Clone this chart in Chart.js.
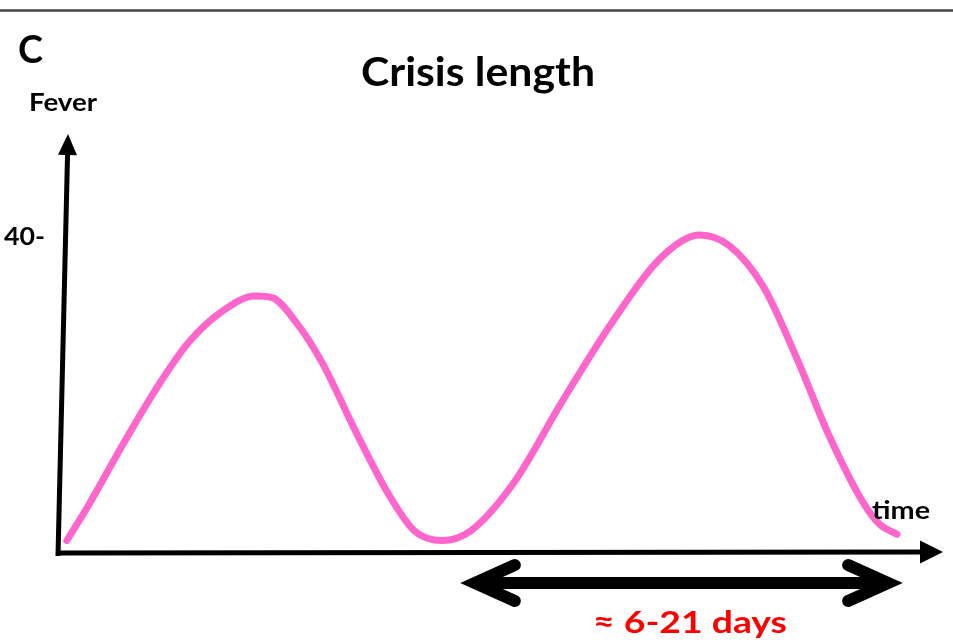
<!DOCTYPE html>
<html>
<head>
<meta charset="utf-8">
<title>Crisis length</title>
<script src="https://cdn.jsdelivr.net/npm/chart.js"></script>
<style>
  html, body { margin: 0; padding: 0; background: #fff; }
  canvas { display: block; }
</style>
</head>
<body>
<canvas id="myChart" width="953" height="644"></canvas>
<script>
// schematic fever curve (time in arbitrary units 0-100)
const timeValues = [1.0, 3.4, 7.2, 11.0, 14.7, 18.5, 22.3, 24.2, 26.8, 29.8, 33.6, 37.3, 40.3, 43.4,
  46.6, 51.4, 57.1, 62.7, 68.4, 72.5, 75.9, 79.7, 83.5, 87.2, 91.0, 92.9, 94.8]
const feverValues = [30.4, 31.5, 33.4, 35.2, 36.7, 37.7, 38.2, 38.15, 37.4, 36.1, 33.9, 31.9, 30.7, 30.4,
  30.7, 32.2, 34.9, 37.4, 39.5, 40.15, 39.8, 38.5, 36.2, 33.7, 31.6, 30.9, 30.6]
const yTicks = [40]
const spanStart = 47.1   // ends of the "6-21 days" arrow, in time units
const spanEnd = 93.8

const FONT = 'Lato, "Open Sans", sans-serif'

function line(ctx, x1, y1, x2, y2) {
  ctx.beginPath()
  ctx.moveTo(x1, y1)
  ctx.lineTo(x2, y2)
  ctx.stroke()
}

function arrowHead(ctx, tipX, tipY, angle, len, half) {
  ctx.save()
  ctx.translate(tipX, tipY)
  ctx.rotate(angle)
  ctx.beginPath()
  ctx.moveTo(0, 0)
  ctx.lineTo(-len, -half)
  ctx.lineTo(-len, half)
  ctx.closePath()
  ctx.fill()
  ctx.restore()
}

// draw text starting at left, stretched to a given width
function fitText(ctx, text, left, baseline, size, width) {
  ctx.save()
  ctx.font = 'bold ' + size + 'px ' + FONT
  ctx.textAlign = 'left'
  ctx.textBaseline = 'alphabetic'
  const w = ctx.measureText(text).width
  ctx.translate(left, baseline)
  ctx.scale(width / w, 1)
  ctx.fillText(text, 0, 0)
  ctx.restore()
}

const sketchAxes = {
  id: 'sketchAxes',
  beforeDatasetsDraw(chart) {
    const { ctx } = chart
    const x = chart.scales.x
    const y = chart.scales.y
    const x0 = x.getPixelForValue(x.min)
    const y0 = y.getPixelForValue(y.min)

    ctx.save()
    // rule at top of the panel
    ctx.strokeStyle = '#444'
    ctx.lineWidth = 2.5
    line(ctx, 0, 10.5, chart.width, 10.5)

    ctx.strokeStyle = '#000'
    ctx.fillStyle = '#000'
    ctx.lineWidth = 5
    ctx.lineCap = 'butt'
    // x axis
    const xEnd = x.getPixelForValue(x.max)
    line(ctx, x0 - 2, y0, xEnd - 18, y0 - 1)
    arrowHead(ctx, xEnd, y0 - 1, 0, 23, 11.5)
    // y axis, drawn a little tilted
    const topY = 134
    line(ctx, x0, y0 + 3, x0 + 9.6, topY + 18)
    arrowHead(ctx, x0 + 10, topY, -Math.PI / 2 + 0.024, 21, 9.5)
    ctx.restore()
  },
  afterDraw(chart) {
    const { ctx } = chart
    const x = chart.scales.x
    const y = chart.scales.y
    ctx.save()
    ctx.fillStyle = '#000'

    fitText(ctx, 'C', 18, 63, 39, 25)
    fitText(ctx, 'Crisis length', 361, 86, 40, 234)
    fitText(ctx, 'Fever', 29, 111, 25, 68)
    yTicks.forEach(t => {
      fitText(ctx, t + '-', 4, y.getPixelForValue(t) + 5, 25, 41)
    })
    fitText(ctx, 'time', 872, 519, 25, 58)

    // double arrow under the x axis
    const ax1 = x.getPixelForValue(spanStart)
    const ax2 = x.getPixelForValue(spanEnd)
    const ay = 583
    ctx.strokeStyle = '#000'
    ctx.lineWidth = 12
    ctx.lineCap = 'round'
    ctx.lineJoin = 'miter'
    line(ctx, ax1 + 4, ay, ax2 - 4, ay)
    ctx.beginPath()
    ctx.moveTo(ax1 + 40, ay - 18)
    ctx.lineTo(ax1, ay)
    ctx.lineTo(ax1 + 40, ay + 18)
    ctx.stroke()
    ctx.beginPath()
    ctx.moveTo(ax2 - 40, ay - 18)
    ctx.lineTo(ax2, ay)
    ctx.lineTo(ax2 - 40, ay + 18)
    ctx.stroke()

    ctx.fillStyle = '#ff0000'
    fitText(ctx, '\u2248 6-21 days', 593, 633, 31, 194)
    ctx.restore()
  }
}

const ctx = document.getElementById('myChart').getContext('2d')
const myChart = new Chart(ctx, {
  type: 'line',
  data: {
    datasets: [{
      label: 'Fever',
      data: timeValues.map((t, i) => ({ x: t, y: feverValues[i] })),
      borderColor: '#ff66cc',
      borderWidth: 7,
      borderCapStyle: 'round',
      pointRadius: 0,
      fill: false,
      cubicInterpolationMode: 'monotone'
    }]
  },
  options: {
    responsive: false,
    animation: false,
    layout: { padding: { left: 58, right: 10, top: 177, bottom: 91 } },
    plugins: { legend: { display: false }, tooltip: { enabled: false } },
    scales: {
      x: { type: 'linear', min: 0, max: 100, display: false },
      y: { min: 30, max: 42, display: false }
    }
  },
  plugins: [sketchAxes]
})
</script>
</body>
</html>
